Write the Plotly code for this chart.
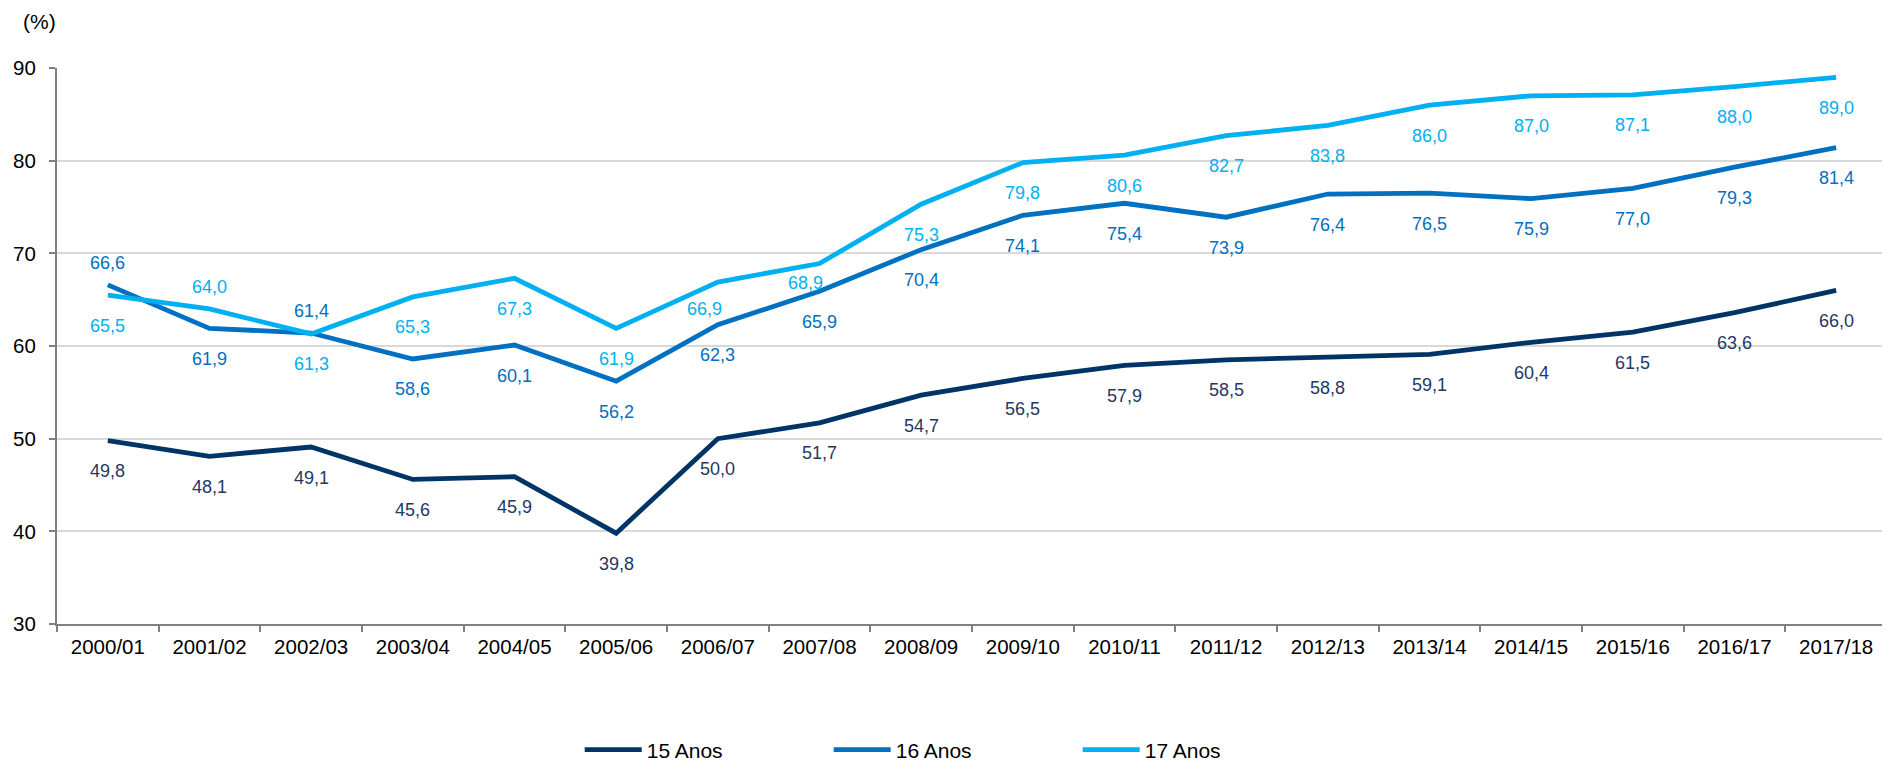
import plotly.graph_objects as go

categories = ["2000/01", "2001/02", "2002/03", "2003/04", "2004/05", "2005/06",
              "2006/07", "2007/08", "2008/09", "2009/10", "2010/11", "2011/12",
              "2012/13", "2013/14", "2014/15", "2015/16", "2016/17", "2017/18"]

anos15 = [49.8, 48.1, 49.1, 45.6, 45.9, 39.8, 50.0, 51.7, 54.7, 56.5, 57.9, 58.5,
          58.8, 59.1, 60.4, 61.5, 63.6, 66.0]
anos16 = [66.6, 61.9, 61.4, 58.6, 60.1, 56.2, 62.3, 65.9, 70.4, 74.1, 75.4, 73.9,
          76.4, 76.5, 75.9, 77.0, 79.3, 81.4]
anos17 = [65.5, 64.0, 61.3, 65.3, 67.3, 61.9, 66.9, 68.9, 75.3, 79.8, 80.6, 82.7,
          83.8, 86.0, 87.0, 87.1, 88.0, 89.0]

series_names = ["15 Anos", "16 Anos", "17 Anos"]
series_values = [anos15, anos16, anos17]
line_colors = ["#003366", "#0070C0", "#00B0F0"]
label_colors = ["#1F3864", "#0070C0", "#00B0F0"]

# label placement (style): indices whose label sits above the line
labels_above = {"16 Anos": [0, 2], "17 Anos": [1]}
# a few hand-placed labels: (x shift px, distance below line px)
label_nudge = {("17 Anos", 6): (-13, 27), ("17 Anos", 7): (-14, 19)}

FONT = "Liberation Sans, Arial, sans-serif"

# the page body adds an 8 px offset, so the figure is 8 px smaller
W, H = 1882, 754
ML, MR, MT, MB = 49, 3, 60, 138
PW, PH = W - ML - MR, H - MT - MB

fig = go.Figure()
annotations = []
for name, vals, lc, tc in zip(series_names, series_values, line_colors, label_colors):
    fig.add_trace(go.Scatter(
        x=categories, y=vals, name=name, mode="lines",
        line=dict(color=lc, width=4.8),
        hoverinfo="x+y+name",
    ))
    for i, (c, v) in enumerate(zip(categories, vals)):
        above = i in labels_above.get(name, [])
        dy = 22 if above else -30.5
        dx = 0
        if (name, i) in label_nudge:
            dx, below = label_nudge[(name, i)]
            dy = -below
        annotations.append(dict(
            x=c, y=v, xref="x", yref="y",
            text=f"{v:.1f}".replace(".", ","),
            showarrow=False, xanchor="center", yanchor="middle",
            xshift=dx, yshift=dy,
            font=dict(family=FONT, size=18, color=tc),
        ))

annotations.append(dict(
    xref="paper", yref="paper", x=-18 / PW, y=1 + 47 / PH,
    text="(%)", showarrow=False, xanchor="center", yanchor="middle",
    font=dict(family=FONT, size=21, color="#000000"),
))

fig.update_layout(
    width=W, height=H,
    margin=dict(l=ML, r=MR, t=MT, b=MB, autoexpand=False),
    paper_bgcolor="white", plot_bgcolor="white",
    font=dict(family=FONT, size=21, color="#000000"),
    showlegend=True,
    legend=dict(
        orientation="h", x=(527 - 7.3 + 3) / PW, xanchor="left",
        y=-126 / PH, yanchor="middle",
        font=dict(family=FONT, size=21, color="#000000"),
        itemwidth=57, entrywidth=177, entrywidthmode="pixels",
        bgcolor="rgba(0,0,0,0)",
    ),
    xaxis=dict(
        type="category", range=[-0.5, 17.5], tickson="boundaries",
        ticks="outside", ticklen=6, tickwidth=1.5, tickcolor="#808080",
        showline=True, linecolor="#808080", linewidth=2,
        showgrid=False, tickfont=dict(family=FONT, size=20.5, color="#000000"),
        ticklabelstandoff=3,
        fixedrange=True,
    ),
    yaxis=dict(
        range=[30, 90], dtick=10, tick0=30,
        ticks="outside", ticklen=6, tickwidth=1.5, tickcolor="#808080",
        showline=True, linecolor="#808080", linewidth=2,
        showgrid=True, gridcolor="#D9D9D9", gridwidth=1.5,
        zeroline=False,
        tickfont=dict(family=FONT, size=20.5, color="#000000"),
        ticklabelstandoff=9,
        fixedrange=True,
    ),
    annotations=annotations,
    shapes=[dict(type="line", xref="paper", yref="paper", x0=1, x1=1, y0=0, y1=1,
                 line=dict(color="#D9D9D9", width=1.5))],
)

fig.write_html("out.html")
